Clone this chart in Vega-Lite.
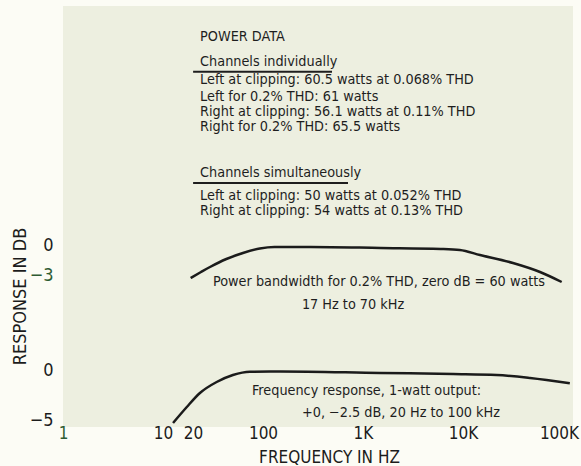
{
  "$schema": "https://vega.github.io/schema/vega-lite/v6.json",
  "width": 510,
  "height": 421,
  "autosize": {"type": "none"},
  "padding": {"left": 63, "top": 6, "right": 8, "bottom": 39},
  "background": "#fcfcf5",
  "config": {
    "view": {"fill": "#edefe0", "stroke": null},
    "font": "Liberation Sans Narrow, DejaVu Sans Condensed, sans-serif",
    "axis": {
      "domain": false, "ticks": false, "tickSize": 0, "grid": false,
      "labelFont": "Liberation Sans Narrow, DejaVu Sans Condensed, sans-serif",
      "titleFont": "Liberation Sans Narrow, DejaVu Sans Condensed, sans-serif",
      "labelColor": "#1c1c1c", "titleColor": "#1c1c1c", "titleFontWeight": "normal"
    }
  },
  "datasets": {
    "upper": [
      {"freq": 18.9, "db": -3.3}, {"freq": 24, "db": -2.7}, {"freq": 29.5, "db": -2.2},
      {"freq": 43, "db": -1.4}, {"freq": 63, "db": -0.8}, {"freq": 93, "db": -0.35},
      {"freq": 130, "db": -0.2}, {"freq": 300, "db": -0.2}, {"freq": 1500, "db": -0.3},
      {"freq": 6000, "db": -0.4}, {"freq": 9300, "db": -0.5}, {"freq": 14800, "db": -1.0},
      {"freq": 31600, "db": -1.8}, {"freq": 58900, "db": -2.7}, {"freq": 97000, "db": -3.7}
    ],
    "lower": [
      {"freq": 12.6, "db": -5.3}, {"freq": 17.3, "db": -3.7}, {"freq": 23.4, "db": -2.3},
      {"freq": 34.4, "db": -1.2}, {"freq": 50, "db": -0.5}, {"freq": 74, "db": -0.17},
      {"freq": 150, "db": -0.15}, {"freq": 1480, "db": -0.3}, {"freq": 8000, "db": -0.4},
      {"freq": 21700, "db": -0.5}, {"freq": 46800, "db": -0.8}, {"freq": 117000, "db": -1.33}
    ],
    "underlines": [
      {"freq": 20, "freq2": 490, "pos": 29.83},
      {"freq": 20, "freq2": 708, "pos": 18.7}
    ],
    "notes": [
      {"freq": 23.5, "pos": 33.3, "text": "POWER DATA"},
      {"freq": 23.5, "pos": 30.8, "text": "Channels individually"},
      {"freq": 23.5, "pos": 29.0, "text": "Left at clipping: 60.5 watts at 0.068% THD"},
      {"freq": 23.5, "pos": 27.3, "text": "Left for 0.2% THD: 61 watts"},
      {"freq": 23.5, "pos": 25.8, "text": "Right at clipping: 56.1 watts at 0.11% THD"},
      {"freq": 23.5, "pos": 24.3, "text": "Right for 0.2% THD: 65.5 watts"},
      {"freq": 23.5, "pos": 19.7, "text": "Channels simultaneously"},
      {"freq": 23.5, "pos": 17.4, "text": "Left at clipping: 50 watts at 0.052% THD"},
      {"freq": 23.5, "pos": 15.9, "text": "Right at clipping: 54 watts at 0.13% THD"},
      {"freq": 31.6, "pos": 8.8, "text": "Power bandwidth for 0.2% THD, zero dB = 60 watts"},
      {"freq": 245, "pos": 6.5, "text": "17 Hz to 70 kHz"},
      {"freq": 77.6, "pos": -2.1, "text": "Frequency response, 1-watt output:"},
      {"freq": 245, "pos": -4.3, "text": "+0, −2.5 dB, 20 Hz to 100 kHz"}
    ]
  },
  "layer": [
    {
      "data": {"name": "upper"},
      "mark": {"type": "line", "interpolate": "monotone", "color": "#1b1b1b", "strokeWidth": 2.5},
      "encoding": {
        "x": {
          "field": "freq", "type": "quantitative",
          "scale": {"type": "log", "domain": [1, 125893], "nice": false},
          "axis": {
            "values": [1, 10, 20, 100, 1000, 10000, 100000],
            "labelExpr": "datum.value >= 1000 ? (datum.value / 1000) + 'K' : datum.value + ''",
            "labelFontSize": 17, "labelBaseline": "alphabetic", "labelPadding": 11,
            "labelFlush": false, "labelOverlap": false,
            "labelOffset": {"condition": {"test": "datum.value == 100000", "value": -4}, "value": 0},
            "labelColor": {"condition": {"test": "datum.value == 1", "value": "#2e5b32"}, "value": "#1c1c1c"},
            "title": "FREQUENCY IN HZ", "titleFontSize": 17, "titleX": 266, "titleY": 35,
            "titleBaseline": "alphabetic", "titleAlign": "center"
          }
        },
        "y": {
          "field": "db", "type": "quantitative",
          "scale": {"domain": [-18.2, 23.9], "nice": false, "zero": false},
          "axis": {
            "orient": "left", "values": [0, -3], "labelFontSize": 18, "labelPadding": 10,
            "labelBaseline": "middle",
            "labelColor": {"condition": {"test": "datum.value == -3", "value": "#2e5b32"}, "value": "#1c1c1c"},
            "title": "RESPONSE IN DB", "titleFontSize": 18, "titleAngle": 270,
            "titleX": -43, "titleY": 290, "titleAlign": "center", "titleBaseline": "middle"
          }
        }
      }
    },
    {
      "layer": [
        {
          "data": {"name": "lower"},
          "mark": {"type": "line", "interpolate": "monotone", "color": "#1b1b1b", "strokeWidth": 2.5},
          "encoding": {
            "x": {"field": "freq", "type": "quantitative"},
            "y": {
              "field": "db", "type": "quantitative",
              "scale": {"domain": [-5.7, 36.4], "nice": false, "zero": false},
              "axis": {
                "orient": "left", "values": [0, -5], "labelFontSize": 18, "labelPadding": 10,
                "labelBaseline": "middle", "title": null
              }
            }
          }
        },
        {
          "data": {"name": "underlines"},
          "mark": {"type": "rule", "color": "#1e1e1e", "strokeWidth": 2},
          "encoding": {
            "x": {"field": "freq", "type": "quantitative"},
            "x2": {"field": "freq2"},
            "y": {"field": "pos", "type": "quantitative", "title": null}
          }
        },
        {
          "data": {"name": "notes"},
          "mark": {"type": "text", "align": "left", "baseline": "middle", "fontSize": 14.3, "color": "#1e1e1e"},
          "encoding": {
            "x": {"field": "freq", "type": "quantitative"},
            "y": {"field": "pos", "type": "quantitative", "title": null},
            "text": {"field": "text"}
          }
        }
      ]
    }
  ],
  "resolve": {"scale": {"y": "independent"}, "axis": {"y": "independent"}}
}
